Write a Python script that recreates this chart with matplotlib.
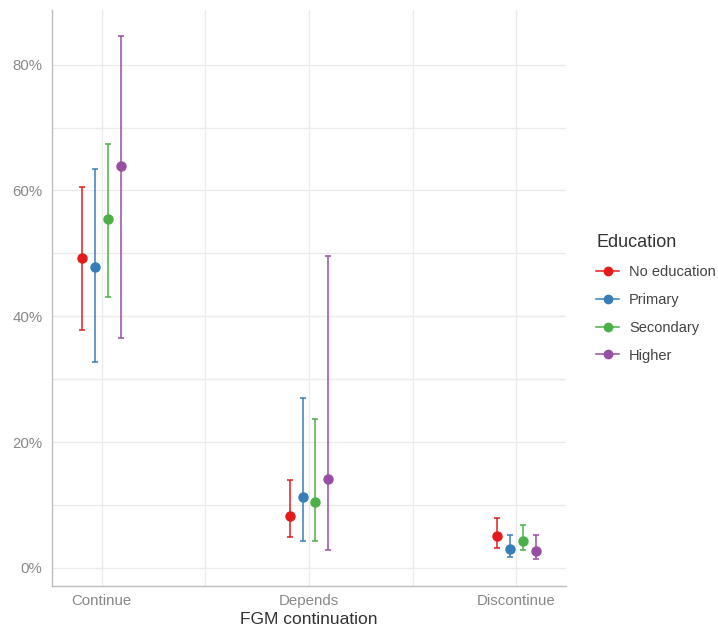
import matplotlib.pyplot as plt
import numpy as np
from matplotlib.lines import Line2D

plt.rcParams['font.family'] = ['Liberation Sans', 'DejaVu Sans']

# ============================================================
# 数据
# ============================================================
categories = ['Continue', 'Depends', 'Discontinue']
groups = ['No education', 'Primary', 'Secondary', 'Higher']
colors = ['#E41A1C', '#377EB8', '#4DAF4A', '#984EA3']

# 估计值 (%)，按类别排列
est = {
    'No education': [49.2, 8.3, 5.1],
    'Primary':      [47.9, 11.3, 3.0],
    'Secondary':    [55.4, 10.4, 4.3],
    'Higher':       [63.9, 14.1, 2.7],
}
lower = {
    'No education': [37.8, 4.9, 3.1],
    'Primary':      [32.8, 4.3, 1.7],
    'Secondary':    [43.0, 4.3, 2.8],
    'Higher':       [36.5, 2.8, 1.4],
}
upper = {
    'No education': [60.6, 13.9, 7.9],
    'Primary':      [63.4, 27.0, 5.2],
    'Secondary':    [67.4, 23.6, 6.8],
    'Higher':       [84.6, 49.6, 5.2],
}

# ============================================================
# 绘图
# ============================================================
fig = plt.figure(figsize=(7.18, 6.31), dpi=100)
ax = fig.add_axes([52 / 718, 1 - 586 / 631, (566 - 52) / 718, (586 - 10) / 631])

x = np.arange(len(categories))
offsets = [-0.093, -0.031, 0.031, 0.093]

for g, c, off in zip(groups, colors, offsets):
    y = np.array(est[g])
    lo = y - np.array(lower[g])
    hi = np.array(upper[g]) - y
    ax.errorbar(x + off, y, yerr=[lo, hi], fmt='o', color=c, ms=6.5,
                elinewidth=1.1, capsize=2.2, capthick=1.1, zorder=3)

ax.set_xlim(-0.24, 2.24)
ax.set_ylim(-2.9, 88.7)

grid_c = '#ebebeb'
ax.set_yticks([0, 20, 40, 60, 80])
ax.set_yticks([10, 30, 50, 70], minor=True)
ax.set_yticklabels(['0%', '20%', '40%', '60%', '80%'])
ax.set_xticks(x)
ax.set_xticks([0.5, 1.5], minor=True)
ax.set_xticklabels(categories)
ax.grid(True, which='both', color=grid_c, lw=1.0, zorder=0)
ax.set_axisbelow(True)

ax.tick_params(which='both', length=0, colors='#888888', labelsize=10.8, pad=7)
ax.tick_params(axis='x', pad=6)
for s in ['top', 'right']:
    ax.spines[s].set_visible(False)
for s in ['left', 'bottom']:
    ax.spines[s].set_color('#bdbdbd')
    ax.spines[s].set_linewidth(1.0)

ax.set_xlabel('FGM continuation', fontsize=12.5, color='#333333', labelpad=3)

handles = [Line2D([0], [0], color=c, marker='o', ms=6, lw=1.1) for c in colors]
leg = fig.legend(handles, groups, title='Education', loc='upper left',
                 bbox_to_anchor=(583 / 718, 1 - 221 / 631), frameon=False,
                 fontsize=10.5, title_fontsize=13, handlelength=1.6,
                 labelspacing=0.95, handletextpad=0.65, alignment='left')
leg.get_title().set_color('#333333')
for t in leg.get_texts():
    t.set_color('#444444')

fig.savefig('out.png', dpi=100)
